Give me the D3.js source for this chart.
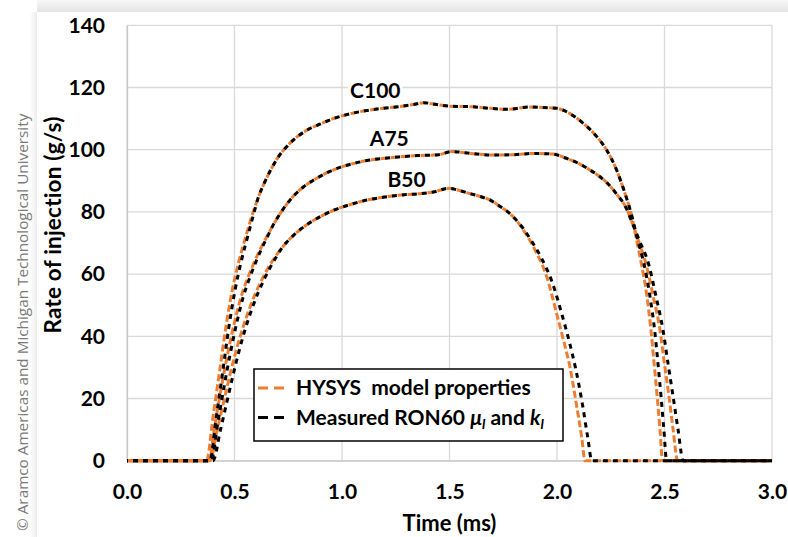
<!DOCTYPE html>
<html>
<head>
<meta charset="utf-8">
<script src="https://cdn.jsdelivr.net/npm/d3@7"></script>
<style>
  body { margin: 0; background: #fff; }
  svg { display: block; font-family: Lato, "Open Sans", sans-serif; }
</style>
</head>
<body>
<svg id="chart" width="788" height="537"></svg>
<script>
// values, [time (ms), rate (g/s)]
const c100Hysys = [[0,0],[0.37,0],[0.40,14],[0.43,28.5],[0.46,43],[0.49,55],[0.52,64],[0.55,71.5],[0.58,78.5],[0.61,84.5],[0.64,89.5],[0.67,93.7],[0.70,97.3],[0.74,100.8],[0.78,103.5],[0.83,106],[0.9,108.3],[0.96,110],[1.04,111.6],[1.115,112.6],[1.19,113.3],[1.27,113.9],[1.33,114.5],[1.38,115.1],[1.44,114.5],[1.5,114],[1.61,113.8],[1.69,113.3],[1.77,113],[1.87,113.7],[2.0,113.3],[2.045,112.2],[2.085,110.5],[2.122,108.5],[2.185,104.2],[2.23,100],[2.277,93.5],[2.316,86],[2.345,79.5],[2.37,71],[2.392,63.5],[2.418,53],[2.437,42],[2.452,31],[2.466,20.6],[2.479,10],[2.491,0],[3,0]];
const c100Measured = [[0,0],[0.385,0],[0.415,14],[0.445,28.5],[0.474,43],[0.503,55],[0.531,64],[0.559,71.5],[0.586,78.5],[0.61,84.5],[0.64,89.5],[0.67,93.7],[0.70,97.3],[0.74,100.8],[0.78,103.5],[0.83,106],[0.9,108.3],[0.96,110],[1.04,111.6],[1.115,112.6],[1.19,113.3],[1.27,113.9],[1.33,114.5],[1.38,115.1],[1.44,114.5],[1.5,114],[1.61,113.8],[1.69,113.3],[1.77,113],[1.87,113.7],[2.0,113.3],[2.045,112.2],[2.085,110.5],[2.122,108.5],[2.185,104.2],[2.23,100],[2.277,93.5],[2.316,86],[2.345,79.5],[2.375,71],[2.404,63.5],[2.432,53],[2.454,42],[2.47,31],[2.484,20.6],[2.497,10],[2.51,0],[3,0]];

const a75Hysys = [[0,0],[0.38,0],[0.41,12],[0.44,24],[0.47,35],[0.50,44.5],[0.53,52.5],[0.56,58.5],[0.59,63.5],[0.62,68],[0.65,72],[0.68,75.8],[0.71,79.2],[0.74,82.2],[0.78,85.5],[0.82,88],[0.87,90.3],[0.93,92.6],[0.99,94.3],[1.05,95.5],[1.115,96.5],[1.19,97.2],[1.27,97.7],[1.35,98.1],[1.45,98.4],[1.51,99.4],[1.6,98.8],[1.69,98.3],[1.8,98.4],[1.89,98.8],[1.98,98.6],[2.045,97.2],[2.1,95.6],[2.153,93.5],[2.2,91.3],[2.24,88.8],[2.28,85.5],[2.32,81.5],[2.35,76.5],[2.38,70.5],[2.413,63.5],[2.447,53],[2.479,42],[2.50,31],[2.521,20.6],[2.54,10],[2.561,0],[3,0]];
const a75Measured = [[0,0],[0.392,0],[0.422,12],[0.452,24],[0.482,35],[0.511,44.5],[0.54,52.5],[0.569,58.5],[0.597,63.5],[0.625,68],[0.653,72],[0.68,75.8],[0.71,79.2],[0.74,82.2],[0.78,85.5],[0.82,88],[0.87,90.3],[0.93,92.6],[0.99,94.3],[1.05,95.5],[1.115,96.5],[1.19,97.2],[1.27,97.7],[1.35,98.1],[1.45,98.4],[1.51,99.4],[1.6,98.8],[1.69,98.3],[1.8,98.4],[1.89,98.8],[1.98,98.6],[2.045,97.2],[2.1,95.6],[2.153,93.5],[2.2,91.3],[2.24,88.8],[2.28,85.5],[2.32,81.5],[2.35,76.5],[2.385,70.5],[2.425,63.5],[2.46,53],[2.493,42],[2.517,31],[2.54,20.6],[2.563,10],[2.587,0],[3,0]];

const b50Hysys = [[0,0],[0.385,0],[0.42,10],[0.45,19],[0.48,28],[0.51,36],[0.54,43],[0.57,49],[0.60,54.2],[0.63,58.6],[0.66,62.4],[0.69,65.6],[0.72,68.4],[0.76,71.5],[0.80,74],[0.85,76.5],[0.90,78.5],[0.96,80.5],[1.03,82.2],[1.115,83.8],[1.2,84.8],[1.27,85.4],[1.35,85.8],[1.425,86.4],[1.50,87.6],[1.53,87.2],[1.58,86.2],[1.64,85],[1.69,83.8],[1.73,82],[1.77,80.1],[1.81,77.4],[1.85,73.5],[1.9,67.5],[1.952,59.2],[1.998,47.4],[2.03,38.8],[2.06,30.2],[2.092,17.4],[2.115,7.5],[2.13,0],[3,0]];
const b50Measured = [[0,0],[0.40,0],[0.435,10],[0.465,19],[0.495,28],[0.524,36],[0.553,43],[0.582,49],[0.611,54.2],[0.64,58.6],[0.668,62.4],[0.695,65.6],[0.72,68.4],[0.76,71.5],[0.80,74],[0.85,76.5],[0.90,78.5],[0.96,80.5],[1.03,82.2],[1.115,83.8],[1.2,84.8],[1.27,85.4],[1.35,85.8],[1.425,86.4],[1.50,87.6],[1.53,87.2],[1.58,86.2],[1.64,85],[1.69,83.8],[1.73,82],[1.77,80.1],[1.81,77.4],[1.845,74.5],[1.88,70.8],[1.925,65.5],[1.977,57.5],[2.025,46.5],[2.057,38.3],[2.087,29.5],[2.12,17.4],[2.143,7.5],[2.162,0],[3,0]];

const xTicks = [0, 0.5, 1.0, 1.5, 2.0, 2.5, 3.0];
const yTicks = [0, 20, 40, 60, 80, 100, 120, 140];

const fuelLabels = [
  {name: 'C100', t: 1.155, v: 119.3},
  {name: 'A75', t: 1.22, v: 103.8},
  {name: 'B50', t: 1.3, v: 90.8}
];

const legendItems = ['HYSYS', 'Measured'];

const orange = '#ED7D31';
const fontSize = 21;
const svg = d3.select('#chart');

// page frame: grey shadow band at top, copyright strip at left
const defs = svg.append('defs');
const topGrad = defs.append('linearGradient').attr('id', 'topShadow').attr('x1', 0).attr('y1', 0).attr('x2', 0).attr('y2', 1);
topGrad.append('stop').attr('offset', '0%').attr('stop-color', '#f7f7f7');
topGrad.append('stop').attr('offset', '100%').attr('stop-color', '#e4e4e4');
const leftGrad = defs.append('linearGradient').attr('id', 'leftShadow').attr('x1', 0).attr('y1', 0).attr('x2', 1).attr('y2', 0);
leftGrad.append('stop').attr('offset', '0%').attr('stop-color', '#ffffff');
leftGrad.append('stop').attr('offset', '100%').attr('stop-color', '#ececec');

svg.append('rect').attr('x', 37).attr('y', 0).attr('width', 751).attr('height', 12).attr('fill', 'url(#topShadow)');
svg.append('rect').attr('x', 30).attr('y', 12).attr('width', 7).attr('height', 525).attr('fill', 'url(#leftShadow)');

svg.append('text')
  .attr('transform', 'translate(27.5,531) rotate(-90)')
  .attr('font-family', '"Open Sans", sans-serif')
  .attr('font-size', 15.3)
  .attr('fill', '#7a7a7a')
  .text('\u00A9 Aramco Americas and Michigan Technological University');

const x = d3.scaleLinear().domain([0, 3]).range([127, 772]);
const y = d3.scaleLinear().domain([0, 140]).range([460.7, 25.3]);

// grid
const grid = svg.append('g').attr('class', 'grid');
grid.selectAll('.vgrid').data(xTicks).enter().append('line')
  .attr('x1', d => x(d)).attr('x2', d => x(d))
  .attr('y1', y(0)).attr('y2', y(140))
  .attr('stroke', '#d9d9d9').attr('stroke-width', 1.3);
grid.selectAll('.hgrid').data(yTicks).enter().append('line')
  .attr('x1', x(0)).attr('x2', x(3))
  .attr('y1', d => y(d)).attr('y2', d => y(d))
  .attr('stroke', '#d9d9d9').attr('stroke-width', 1.3);

// axes
const xAxis = svg.append('g')
  .attr('transform', 'translate(0,' + y(0) + ')')
  .call(d3.axisBottom(x).tickValues(xTicks).tickSize(0).tickPadding(23).tickFormat(d3.format('.1f')));
const yAxis = svg.append('g')
  .attr('transform', 'translate(' + x(0) + ',0)')
  .call(d3.axisLeft(y).tickValues(yTicks).tickSize(0).tickPadding(22));
[xAxis, yAxis].forEach(ax => {
  ax.select('.domain').attr('stroke', '#c8c8c8').attr('stroke-width', 1.3);
  ax.selectAll('text').attr('font-size', fontSize).attr('font-weight', 'bold').attr('fill', '#000').attr('font-family', 'Lato, sans-serif');
});

svg.append('text')
  .attr('x', 449.5).attr('y', 530.5)
  .attr('text-anchor', 'middle')
  .attr('font-size', 22).attr('font-weight', 'bold')
  .text('Time (ms)');

svg.append('text')
  .attr('transform', 'translate(61,225) rotate(-90)')
  .attr('text-anchor', 'middle')
  .attr('font-size', 22.5).attr('font-weight', 'bold')
  .attr('letter-spacing', 0.2)
  .text('Rate of injection (g/s)');

// curves
const line = d3.line()
  .x(d => x(d[0]))
  .y(d => y(d[1]))
  .curve(d3.curveMonotoneX);

// measured drawn over HYSYS, dashes set so the two interleave
const series = [
  {data: c100Hysys, color: orange, dash: '7,3', offset: 0},
  {data: a75Hysys, color: orange, dash: '7,3', offset: 0},
  {data: b50Hysys, color: orange, dash: '7,3', offset: 0},
  {data: c100Measured, color: '#000', dash: '5,5', offset: -6},
  {data: a75Measured, color: '#000', dash: '5,5', offset: -6},
  {data: b50Measured, color: '#000', dash: '5,5', offset: -6}
];

svg.append('g').selectAll('path').data(series).enter().append('path')
  .attr('d', d => line(d.data))
  .attr('fill', 'none')
  .attr('stroke', d => d.color)
  .attr('stroke-width', 3)
  .attr('stroke-dasharray', d => d.dash)
  .attr('stroke-dashoffset', d => d.offset);

// fuel labels with white backing
const gLabels = svg.append('g');
fuelLabels.forEach(lb => {
  const t = gLabels.append('text')
    .attr('x', x(lb.t)).attr('y', y(lb.v))
    .attr('text-anchor', 'middle')
    .attr('dominant-baseline', 'central')
    .attr('font-size', fontSize).attr('font-weight', 'bold')
    .text(lb.name);
  const bb = t.node().getBBox();
  gLabels.insert('rect', 'text')
    .attr('x', bb.x - 2).attr('y', bb.y + 3).attr('width', bb.width + 4).attr('height', bb.height - 6)
    .attr('fill', '#fff');
});

// legend
const legend = svg.append('g');
legend.append('rect')
  .attr('x', 254).attr('y', 369).attr('width', 309).attr('height', 72)
  .attr('fill', '#fff').attr('stroke', '#000').attr('stroke-width', 1.5);

legendItems.forEach((item, i) => {
  const ly = 388 + i * 29.5;
  legend.append('line')
    .attr('x1', 258).attr('x2', 289).attr('y1', ly).attr('y2', ly)
    .attr('stroke', i === 0 ? orange : '#000')
    .attr('stroke-width', 3)
    .attr('stroke-dasharray', '10,6');
  const txt = legend.append('text')
    .attr('x', 296).attr('y', ly + 7)
    .attr('font-size', fontSize).attr('font-weight', 'bold');
  if (i === 0) {
    txt.text('HYSYS  model properties').attr('xml:space', 'preserve');
  } else {
    txt.append('tspan').text('Measured RON60 ');
    txt.append('tspan').attr('font-style', 'italic').text('\u03BC');
    txt.append('tspan').attr('font-style', 'italic').attr('font-size', 14).attr('dy', 4).text('l');
    txt.append('tspan').attr('dy', -4).text(' and ');
    txt.append('tspan').attr('font-style', 'italic').text('k');
    txt.append('tspan').attr('font-style', 'italic').attr('font-size', 14).attr('dy', 4).text('l');
  }
});
</script>
</body>
</html>
